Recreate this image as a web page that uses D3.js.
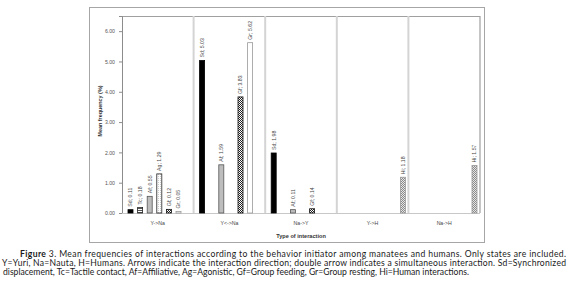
<!DOCTYPE html>
<html lang="en">
<head>
  <meta charset="UTF-8">
  <title>Figure 3 - Mean frequencies of interactions</title>
  <style>
    body {
      margin: 0;
      background-color: #fff;
    }
    svg text {
      font-family: "Liberation Sans", Arial, sans-serif;
    }
    .caption text {
      font-family: Lato, "Open Sans", sans-serif;
    }
  </style>
</head>
<body>
  <svg id="chart" width="577" height="297"></svg>

  <script src="https://d3js.org/d3.v7.min.js"></script>
  <script>
    // data
    const categories = ["Y->Na", "Y<->Na", "Na->Y", "Y->H", "Na->H"];
    const behaviors = ["Sd", "Tc", "Af", "Ag", "Gf", "Gr", "Hi"];
    const sdValues = [0.11, 5.03, 1.98, null, null];
    const tcValues = [0.18, null, null, null, null];
    const afValues = [0.55, 1.59, 0.11, null, null];
    const agValues = [1.29, null, null, null, null];
    const gfValues = [0.12, 3.83, 0.14, null, null];
    const grValues = [0.05, 5.62, null, null, null];
    const hiValues = [null, null, null, 1.18, 1.57];
    const yTicks = [0, 1, 2, 3, 4, 5, 6];

    const series = {Sd: sdValues, Tc: tcValues, Af: afValues, Ag: agValues, Gf: gfValues, Gr: grValues, Hi: hiValues};

    const svg = d3.select("#chart");

    // patterns for the bar fills
    const defs = svg.append("defs");
    const tc = defs.append("pattern").attr("id", "pTc").attr("width", 2).attr("height", 2)
      .attr("patternUnits", "userSpaceOnUse");
    tc.append("rect").attr("width", 2).attr("height", 2).attr("fill", "#fff");
    tc.append("rect").attr("width", 2).attr("height", 1).attr("fill", "#555");

    const ag = defs.append("pattern").attr("id", "pAg").attr("width", 2).attr("height", 2)
      .attr("patternUnits", "userSpaceOnUse");
    ag.append("rect").attr("width", 2).attr("height", 2).attr("fill", "#fff");
    ag.append("rect").attr("width", 1).attr("height", 1).attr("fill", "#ccc");

    const gf = defs.append("pattern").attr("id", "pGf").attr("width", 2).attr("height", 2)
      .attr("patternUnits", "userSpaceOnUse");
    gf.append("rect").attr("width", 2).attr("height", 2).attr("fill", "#fff");
    gf.append("rect").attr("width", 1).attr("height", 1).attr("fill", "#222");
    gf.append("rect").attr("x", 1).attr("y", 1).attr("width", 1).attr("height", 1).attr("fill", "#222");

    const hi = defs.append("pattern").attr("id", "pHi").attr("width", 2).attr("height", 2)
      .attr("patternUnits", "userSpaceOnUse");
    hi.append("rect").attr("width", 2).attr("height", 2).attr("fill", "#e6e6e6");
    hi.append("rect").attr("width", 1).attr("height", 1).attr("fill", "#8a8a8a");
    hi.append("rect").attr("x", 1).attr("y", 1).attr("width", 1).attr("height", 1).attr("fill", "#8a8a8a");

    const styles = {
      Sd: {fill: "#000", stroke: "#000"},
      Tc: {fill: "url(#pTc)", stroke: "#222"},
      Af: {fill: "#bdbdbd", stroke: "#555"},
      Ag: {fill: "url(#pAg)", stroke: "#222"},
      Gf: {fill: "url(#pGf)", stroke: "#111"},
      Gr: {fill: "#fff", stroke: "#999"},
      Hi: {fill: "url(#pHi)", stroke: "#999"}
    };

    // outer chart frame
    svg.append("rect")
      .attr("x", 89.5).attr("y", 7.5)
      .attr("width", 395).attr("height", 235)
      .attr("fill", "#fff")
      .attr("stroke", "#a6a6a6");

    const plot = {left: 122, right: 480, top: 16, bottom: 213};

    const x = d3.scaleBand()
      .domain(categories)
      .range([plot.left, plot.right]);

    const xInner = d3.scalePoint()
      .domain(behaviors)
      .range([8.5, 66.1]);

    const y = d3.scaleLinear()
      .domain([0, 6.5])
      .range([plot.bottom, plot.top]);

    const barW = 5;

    // plot border (top and right)
    svg.append("path")
      .attr("d", `M${plot.left},${plot.top + 0.5}H${plot.right}V${plot.bottom}`)
      .attr("fill", "none")
      .attr("stroke", "#a0a0a0")
      .attr("stroke-width", 1.2);

    // category separators
    svg.append("g").selectAll("line")
      .data(categories.slice(1))
      .join("line")
      .attr("x1", d => x(d)).attr("x2", d => x(d))
      .attr("y1", plot.top).attr("y2", plot.bottom)
      .attr("stroke", "#d4d4d4")
      .attr("stroke-width", 2);

    // y axis
    const yAxis = svg.append("g")
      .attr("transform", `translate(${plot.left},0)`)
      .call(d3.axisLeft(y).tickValues(yTicks).tickFormat(d3.format(".2f")).tickSize(3).tickPadding(4));
    yAxis.select(".domain").attr("stroke", "#8c8c8c");
    yAxis.selectAll(".tick line").attr("stroke", "#8c8c8c");
    yAxis.selectAll(".tick text").attr("font-size", 5.2).attr("fill", "#555");

    // x axis baseline
    svg.append("line")
      .attr("x1", plot.left).attr("x2", plot.right)
      .attr("y1", plot.bottom + 0.5).attr("y2", plot.bottom + 0.5)
      .attr("stroke", "#c8c8c8")
      .attr("stroke-width", 1.2);

    svg.append("g").selectAll("text")
      .data(categories)
      .join("text")
      .attr("x", d => x(d) + x.bandwidth() / 2)
      .attr("y", 225)
      .attr("text-anchor", "middle")
      .attr("font-size", 5.2)
      .attr("fill", "#444")
      .text(d => d);

    // axis titles
    svg.append("text")
      .attr("transform", "translate(102,111) rotate(-90)")
      .attr("text-anchor", "middle")
      .attr("font-size", 5.4)
      .attr("font-weight", "bold")
      .attr("fill", "#333")
      .text("Mean frequency (%)");

    svg.append("text")
      .attr("x", (plot.left + plot.right) / 2)
      .attr("y", 238)
      .attr("text-anchor", "middle")
      .attr("font-size", 5.6)
      .attr("font-weight", "bold")
      .attr("fill", "#333")
      .text("Type of interaction");

    // bars
    const bars = [];
    behaviors.forEach(b => {
      series[b].forEach((v, i) => {
        if (v !== null) bars.push({behavior: b, category: categories[i], value: v});
      });
    });

    const cx = d => x(d.category) + xInner(d.behavior);

    svg.append("g").selectAll("rect")
      .data(bars)
      .join("rect")
      .attr("x", d => cx(d) - barW / 2)
      .attr("y", d => y(d.value))
      .attr("width", barW)
      .attr("height", d => y(0) - y(d.value))
      .attr("fill", d => styles[d.behavior].fill)
      .attr("stroke", d => styles[d.behavior].stroke)
      .attr("stroke-width", 0.8);

    svg.append("g").selectAll("text")
      .data(bars)
      .join("text")
      .attr("transform", d => `translate(${cx(d) + 1.8},${y(d.value) - 3}) rotate(-90)`)
      .attr("font-size", 5.2)
      .attr("fill", "#444")
      .text(d => `${d.behavior}; ${d.value.toFixed(2)}`);

    // caption
    const cap = svg.append("g").attr("class", "caption").attr("fill", "#1a1a1a").attr("font-size", 8.6);
    const l1 = cap.append("text").attr("x", 20).attr("y", 257)
      .attr("textLength", 546).attr("lengthAdjust", "spacing");
    l1.append("tspan").attr("font-weight", "bold").text("Figure");
    l1.append("tspan").text(" 3. Mean frequencies of interactions according to the behavior initiator among manatees and humans. Only states are included.");
    cap.append("text").attr("x", 2).attr("y", 266)
      .attr("textLength", 564).attr("lengthAdjust", "spacing")
      .text("Y=Yuri, Na=Nauta, H=Humans. Arrows indicate the interaction direction; double arrow indicates a simultaneous interaction. Sd=Synchronized");
    cap.append("text").attr("x", 3).attr("y", 275)
      .attr("textLength", 466).attr("lengthAdjust", "spacing")
      .text("displacement, Tc=Tactile contact, Af=Affiliative, Ag=Agonistic, Gf=Group feeding, Gr=Group resting, Hi=Human interactions.");
  </script>
</body>
</html>
